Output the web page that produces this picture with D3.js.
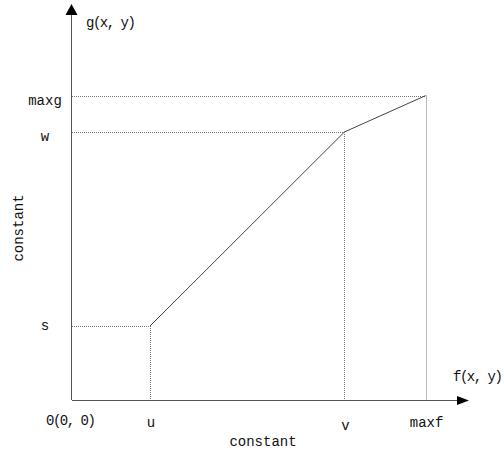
<!DOCTYPE html>
<html>
<head>
<meta charset="utf-8">
<script src="https://cdn.jsdelivr.net/npm/d3@7"></script>
<style>
  body { margin: 0; background: #fff; }
  text { font-family: "Liberation Mono", "DejaVu Sans Mono", monospace; font-size: 14px; fill: #111; }
  text.title { letter-spacing: -1.5px; }
</style>
</head>
<body>
<script>
// piecewise linear transfer: points (u,s), (v,w), (maxf,maxg)
var xNames = ['u', 'v', 'maxf'];
var xValues = [19.5, 68.1, 88.4];
var yNames = ['s', 'w', 'maxg'];
var yValues = [18.5, 67.0, 76.1];
var axisTitles = ['f(x, y)', 'g(x, y)', '0(0, 0)'];
var axisCaption = 'constant';

var width = 504, height = 455;
var origin = {x: 72, y: 400};

var svg = d3.select("body").append("svg")
  .attr("width", width)
  .attr("height", height);

var x = d3.scaleLinear().domain([0, 100]).range([origin.x, origin.x + 400]);
var y = d3.scaleLinear().domain([0, 100]).range([origin.y, origin.y - 400]);

var pts = xValues.map(function(d, i) { return {x: d, y: yValues[i]}; });

// dotted guides
var guides = svg.append("g")
  .attr("stroke", "#777")
  .attr("stroke-width", 1)
  .attr("stroke-dasharray", "1,1");

pts.forEach(function(p) {
  guides.append("line")
    .attr("x1", x(0)).attr("x2", x(p.x))
    .attr("y1", Math.round(y(p.y)) + 0.5).attr("y2", Math.round(y(p.y)) + 0.5);
  guides.append("line")
    .attr("x1", Math.round(x(p.x)) + 0.5).attr("x2", Math.round(x(p.x)) + 0.5)
    .attr("y1", y(p.y)).attr("y2", y(0));
});

// the curve
svg.append("path")
  .datum(pts)
  .attr("fill", "none")
  .attr("stroke", "#444")
  .attr("stroke-width", 1)
  .attr("d", d3.line().x(function(d) { return x(d.x); }).y(function(d) { return y(d.y); }));

// axes with arrow heads
var axisColor = "#555";
svg.append("line")
  .attr("x1", x(0)).attr("y1", y(0) + 0.5)
  .attr("x2", 460).attr("y2", y(0) + 0.5)
  .attr("stroke", axisColor);
svg.append("line")
  .attr("x1", x(0) - 0.5).attr("y1", y(0))
  .attr("x2", x(0) - 0.5).attr("y2", 14)
  .attr("stroke", axisColor);

svg.append("path")
  .attr("d", "M457,396L469,400.5L457,405Z")
  .attr("fill", "#000");
svg.append("path")
  .attr("d", "M65.5,15L71.5,4L77.5,15Z")
  .attr("fill", "#000");

// tick labels
svg.selectAll(".xl").data(xNames).enter().append("text")
  .attr("x", function(d, i) { return x(xValues[i]) + 1; })
  .attr("y", function(d, i) { return i == 1 ? 430 : 427; })
  .attr("text-anchor", "middle")
  .text(function(d) { return d; });

svg.selectAll(".yl").data(yNames).enter().append("text")
  .attr("x", 45)
  .attr("y", function(d, i) { return y(yValues[i]) + (i == 0 ? 4 : 9); })
  .attr("text-anchor", "middle")
  .text(function(d) { return d; });

// axis titles
svg.append("text").attr("class", "title").attr("x", 453).attr("y", 381).text(axisTitles[0]);
svg.append("text").attr("class", "title").attr("x", 86).attr("y", 27).text(axisTitles[1]);
svg.append("text").attr("class", "title").attr("x", 46).attr("y", 425).text(axisTitles[2]);

svg.append("text")
  .attr("x", 263).attr("y", 446)
  .attr("text-anchor", "middle")
  .text(axisCaption);
svg.append("text")
  .attr("transform", "translate(23,228) rotate(-90)")
  .attr("text-anchor", "middle")
  .text(axisCaption);
</script>
</body>
</html>
